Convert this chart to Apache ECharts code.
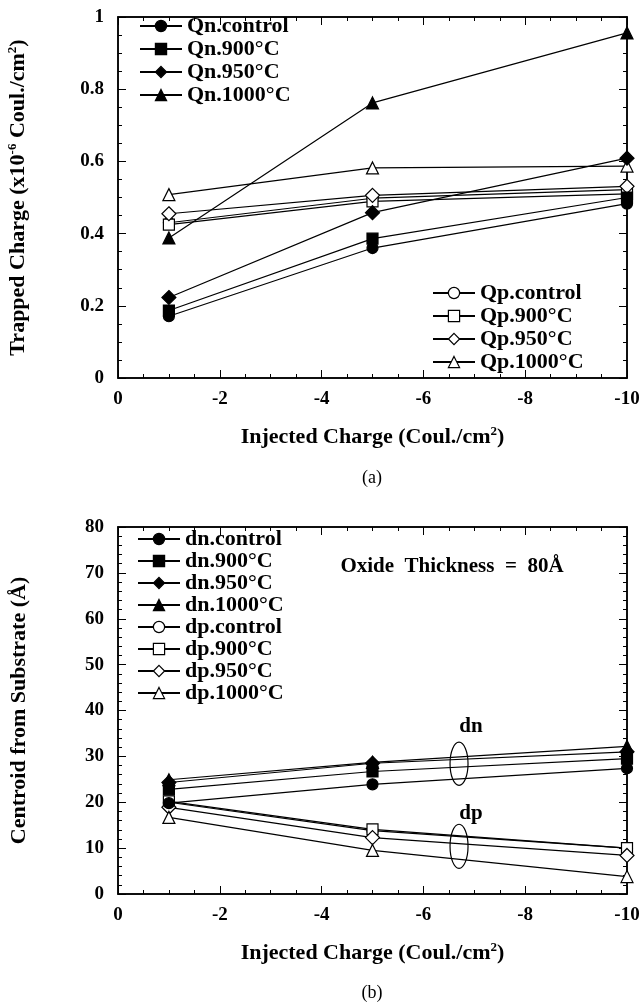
<!DOCTYPE html>
<html>
<head>
<meta charset="utf-8">
<script src="https://cdn.jsdelivr.net/npm/echarts@6/dist/echarts.min.js"></script>
<style>
  html, body { margin: 0; padding: 0; background: #fff; }
  #top { width: 641px; height: 503px; }
  #bottom { width: 641px; height: 503px; }
</style>
</head>
<body>
<div id="top"></div>
<div id="bottom"></div>
<script>
// injected charge positions (Coul./cm2)
const xVals = [-1, -5, -10]

// (a) trapped charge, x10^-6 Coul./cm2
const qnControl = [0.171, 0.360, 0.483]
const qn900 = [0.187, 0.386, 0.500]
const qn950 = [0.223, 0.458, 0.609]
const qn1000 = [0.388, 0.762, 0.956]
const qpControl = [0.430, 0.498, 0.522]
const qp900 = [0.425, 0.489, 0.510]
const qp950 = [0.455, 0.506, 0.531]
const qp1000 = [0.508, 0.582, 0.587]

// (b) centroid from substrate, Angstrom
const dnControl = [19.8, 23.9, 27.4]
const dn900 = [22.8, 26.7, 29.5]
const dn950 = [24.3, 28.5, 31.0]
const dn1000 = [24.9, 28.7, 32.2]
const dpControl = [20.0, 13.8, 10.0]
const dp900 = [20.2, 14.1, 10.0]
const dp950 = [18.9, 12.3, 8.4]
const dp1000 = [16.7, 9.5, 3.8]

// annotation ellipses in data coords
const dnMark = { x: -6.7, y: 28.4, text: 36.5 }
const dpMark = { x: -6.7, y: 10.4, text: 17.6 }

const font = 'Liberation Serif'
const black = '#000'

function pairs(ys) {
  return xVals.map((x, i) => [x, ys[i]])
}

function makeSeries(name, ys, symbol, filled) {
  return {
    name: name,
    type: 'line',
    data: pairs(ys),
    symbol: symbol,
    symbolSize: symbol === 'triangle' ? 12 : (symbol === 'diamond' ? 14 : 11),
    showAllSymbol: true,
    lineStyle: { color: black, width: 1.2 },
    itemStyle: {
      color: filled ? black : '#fff',
      borderColor: black,
      borderWidth: 1.2
    },
    emphasis: { disabled: true },
    z: filled ? 3 : 2
  }
}

const richName = {
  a: { fontFamily: font, fontWeight: 'bold', fontSize: 22, color: black },
  s: { fontFamily: font, fontWeight: 'bold', fontSize: 13, color: black, padding: [0, 0, 11, 0] }
}
const tickFont = { color: black, fontFamily: font, fontWeight: 'bold', fontSize: 19 }

function xAxis(pos) {
  return {
    position: pos,
    type: 'value',
    min: -10,
    max: 0,
    interval: 2,
    inverse: true,
    splitLine: { show: false },
    axisLine: { onZero: false, lineStyle: { color: black, width: 1.5 } },
    axisTick: { inside: true, length: 8 },
    minorTick: { show: true, splitNumber: 4, length: 4 },
    axisLabel: pos === 'top' ? { show: false } : Object.assign({
      margin: 12, formatter: v => v === 0 ? '0' : String(v)
    }, tickFont),
    name: pos === 'top' ? '' : '{a|Injected Charge (Coul./cm}{s|2}{a|)}',
    nameLocation: 'middle',
    nameGap: 47,
    nameTextStyle: { rich: richName }
  }
}

function yAxis(pos, max, interval, minorSplit, name) {
  return {
    position: pos,
    type: 'value',
    min: 0,
    max: max,
    interval: interval,
    splitLine: { show: false },
    axisLine: { show: true, onZero: false, lineStyle: { color: black, width: 1.5 } },
    axisTick: { show: true, inside: true, length: 8 },
    minorTick: { show: true, splitNumber: minorSplit, length: 4 },
    axisLabel: pos === 'right' ? { show: false } : Object.assign({ margin: 14 }, tickFont),
    name: pos === 'right' ? '' : name,
    nameLocation: 'middle',
    nameGap: 88,
    nameTextStyle: { rich: richName }
  }
}

const legendBase = {
  orient: 'vertical',
  itemWidth: 42,
  itemHeight: 14,
  itemGap: 1,
  textStyle: { fontFamily: font, fontWeight: 'bold', fontSize: 22, color: black, lineHeight: 22 },
  selectedMode: false,
  itemStyle: { borderColor: 'inherit', borderWidth: 1.2 }
}

const annoText = { fontFamily: font, fontWeight: 'bold', fontSize: 21, fill: black, textAlign: 'center', textVerticalAlign: 'middle' }
const captionText = { fontFamily: font, fontSize: 18, fill: black, textAlign: 'center', textVerticalAlign: 'middle' }

// (a) trapped charge
const topChart = echarts.init(document.getElementById('top'))
topChart.setOption({
  animation: false,
  grid: {
    left: 118, top: 17, width: 509, height: 361, outerBoundsMode: 'none',
    show: true, borderColor: black, borderWidth: 1.5
  },
  xAxis: [xAxis('bottom'), xAxis('top')],
  yAxis: [
    yAxis('left', 1, 0.2, 4, '{a|Trapped Charge (x10}{s|-6}{a| Coul./cm}{s|2}{a|)}'),
    yAxis('right', 1, 0.2, 4, '')
  ],
  legend: [
    Object.assign({}, legendBase, { left: 134, top: 10, data: ['Qn.control', 'Qn.900°C', 'Qn.950°C', 'Qn.1000°C'] }),
    Object.assign({}, legendBase, { left: 427, top: 277, data: ['Qp.control', 'Qp.900°C', 'Qp.950°C', 'Qp.1000°C'] })
  ],
  series: [
    makeSeries('Qp.control', qpControl, 'circle', false),
    makeSeries('Qp.900°C', qp900, 'rect', false),
    makeSeries('Qp.950°C', qp950, 'diamond', false),
    makeSeries('Qp.1000°C', qp1000, 'triangle', false),
    makeSeries('Qn.control', qnControl, 'circle', true),
    makeSeries('Qn.900°C', qn900, 'rect', true),
    makeSeries('Qn.950°C', qn950, 'diamond', true),
    makeSeries('Qn.1000°C', qn1000, 'triangle', true)
  ],
  graphic: [
    { type: 'text', x: 372, y: 478, style: Object.assign({ text: '(a)' }, captionText) }
  ]
})

// (b) centroid
const botChart = echarts.init(document.getElementById('bottom'))
botChart.setOption({
  animation: false,
  grid: {
    left: 118, top: 24, width: 509, height: 367, outerBoundsMode: 'none',
    show: true, borderColor: black, borderWidth: 1.5
  },
  xAxis: [xAxis('bottom'), xAxis('top')],
  yAxis: [
    yAxis('left', 80, 10, 5, '{a|Centroid from Substrate (Å)}'),
    yAxis('right', 80, 10, 5, '')
  ],
  legend: Object.assign({}, legendBase, {
    left: 132, top: 20, itemGap: 0,
    data: ['dn.control', 'dn.900°C', 'dn.950°C', 'dn.1000°C', 'dp.control', 'dp.900°C', 'dp.950°C', 'dp.1000°C']
  }),
  series: [
    makeSeries('dp.control', dpControl, 'circle', false),
    makeSeries('dp.900°C', dp900, 'rect', false),
    makeSeries('dp.950°C', dp950, 'diamond', false),
    makeSeries('dp.1000°C', dp1000, 'triangle', false),
    makeSeries('dn.control', dnControl, 'circle', true),
    makeSeries('dn.900°C', dn900, 'rect', true),
    makeSeries('dn.950°C', dn950, 'diamond', true),
    makeSeries('dn.1000°C', dn1000, 'triangle', true)
  ]
})

// annotations placed through the axes
const dnC = botChart.convertToPixel({ gridIndex: 0 }, [dnMark.x, dnMark.y])
const dpC = botChart.convertToPixel({ gridIndex: 0 }, [dpMark.x, dpMark.y])
const dnT = botChart.convertToPixel({ gridIndex: 0 }, [dnMark.x, dnMark.text])
const dpT = botChart.convertToPixel({ gridIndex: 0 }, [dpMark.x, dpMark.text])
const ryPx = botChart.convertToPixel({ gridIndex: 0 }, [0, 0])[1] - botChart.convertToPixel({ gridIndex: 0 }, [0, 4.7])[1]

botChart.setOption({
  graphic: [
    { type: 'ellipse', shape: { cx: dnC[0], cy: dnC[1], rx: 9, ry: ryPx }, style: { fill: 'none', stroke: black, lineWidth: 1.2 } },
    { type: 'ellipse', shape: { cx: dpC[0], cy: dpC[1], rx: 9, ry: ryPx + 0.5 }, style: { fill: 'none', stroke: black, lineWidth: 1.2 } },
    { type: 'text', x: dnT[0] + 12, y: dnT[1], style: Object.assign({ text: 'dn' }, annoText) },
    { type: 'text', x: dpT[0] + 12, y: dpT[1], style: Object.assign({ text: 'dp' }, annoText) },
    { type: 'text', x: 452, y: 64, style: Object.assign({ text: 'Oxide  Thickness  =  80Å' }, annoText) },
    { type: 'text', x: 372, y: 490, style: Object.assign({ text: '(b)' }, captionText) }
  ]
})
</script>
</body>
</html>
